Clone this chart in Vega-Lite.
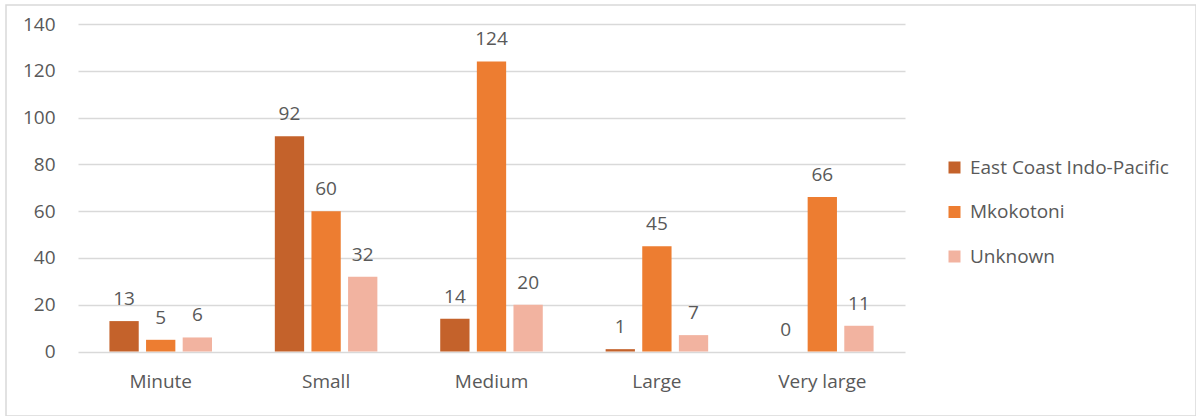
{
  "$schema": "https://vega.github.io/schema/vega-lite/v6.json",
  "width": 1190,
  "height": 411,
  "autosize": {"type": "none"},
  "padding": {"left": 6, "top": 5, "right": 0, "bottom": 0},
  "background": "white",
  "config": {
    "view": {"stroke": "#d9d9d9", "strokeWidth": 1.5},
    "font": "Open Sans"
  },
  "data": {
    "values": [
      {"size": "Minute", "origin": "East Coast Indo-Pacific", "count": 13},
      {"size": "Minute", "origin": "Mkokotoni", "count": 5},
      {"size": "Minute", "origin": "Unknown", "count": 6},
      {"size": "Small", "origin": "East Coast Indo-Pacific", "count": 92},
      {"size": "Small", "origin": "Mkokotoni", "count": 60},
      {"size": "Small", "origin": "Unknown", "count": 32},
      {"size": "Medium", "origin": "East Coast Indo-Pacific", "count": 14},
      {"size": "Medium", "origin": "Mkokotoni", "count": 124},
      {"size": "Medium", "origin": "Unknown", "count": 20},
      {"size": "Large", "origin": "East Coast Indo-Pacific", "count": 1},
      {"size": "Large", "origin": "Mkokotoni", "count": 45},
      {"size": "Large", "origin": "Unknown", "count": 7},
      {"size": "Very large", "origin": "East Coast Indo-Pacific", "count": 0},
      {"size": "Very large", "origin": "Mkokotoni", "count": 66},
      {"size": "Very large", "origin": "Unknown", "count": 11}
    ]
  },
  "encoding": {
    "x": {
      "field": "size",
      "type": "nominal",
      "sort": ["Minute", "Small", "Medium", "Large", "Very large"],
      "scale": {"range": [72, 899], "paddingInner": 0.38, "paddingOuter": 0.19},
      "axis": {
        "title": null,
        "orient": "bottom",
        "offset": -64.5,
        "domain": false,
        "ticks": false,
        "grid": false,
        "labelAngle": 0,
        "labelPadding": 21,
        "labelFontSize": 19,
        "labelColor": "#595959"
      }
    },
    "xOffset": {
      "field": "origin",
      "type": "nominal",
      "sort": ["East Coast Indo-Pacific", "Mkokotoni", "Unknown"],
      "scale": {"paddingInner": 0.2, "paddingOuter": 0}
    },
    "y": {
      "field": "count",
      "type": "quantitative",
      "scale": {"domain": [0, 140], "range": [346.5, 19], "nice": false, "zero": true},
      "axis": {
        "title": null,
        "offset": -72,
        "values": [0, 20, 40, 60, 80, 100, 120, 140],
        "domain": false,
        "ticks": false,
        "grid": true,
        "gridColor": "#d9d9d9",
        "gridWidth": 1.5,
        "labelPadding": 23,
        "labelFontSize": 19,
        "labelColor": "#595959"
      }
    }
  },
  "layer": [
    {
      "mark": {"type": "bar"},
      "encoding": {
        "color": {
          "field": "origin",
          "type": "nominal",
          "sort": ["East Coast Indo-Pacific", "Mkokotoni", "Unknown"],
          "scale": {
            "domain": ["East Coast Indo-Pacific", "Mkokotoni", "Unknown"],
            "range": ["#c4622b", "#ed7d31", "#f2b3a0"]
          },
          "legend": {
            "title": null,
            "orient": "none",
            "legendX": 939,
            "legendY": 153,
            "direction": "vertical",
            "padding": 0,
            "symbolType": "square",
            "symbolSize": 144,
            "symbolStrokeWidth": 0,
            "labelFontSize": 19,
            "labelColor": "#595959",
            "labelOffset": 6,
            "labelLimit": 0,
            "rowPadding": 24.5
          }
        }
      }
    },
    {
      "mark": {
        "type": "text",
        "baseline": "alphabetic",
        "dy": -16,
        "fontSize": 19,
        "color": "#595959"
      },
      "encoding": {
        "text": {"field": "count", "type": "quantitative"}
      }
    }
  ]
}
